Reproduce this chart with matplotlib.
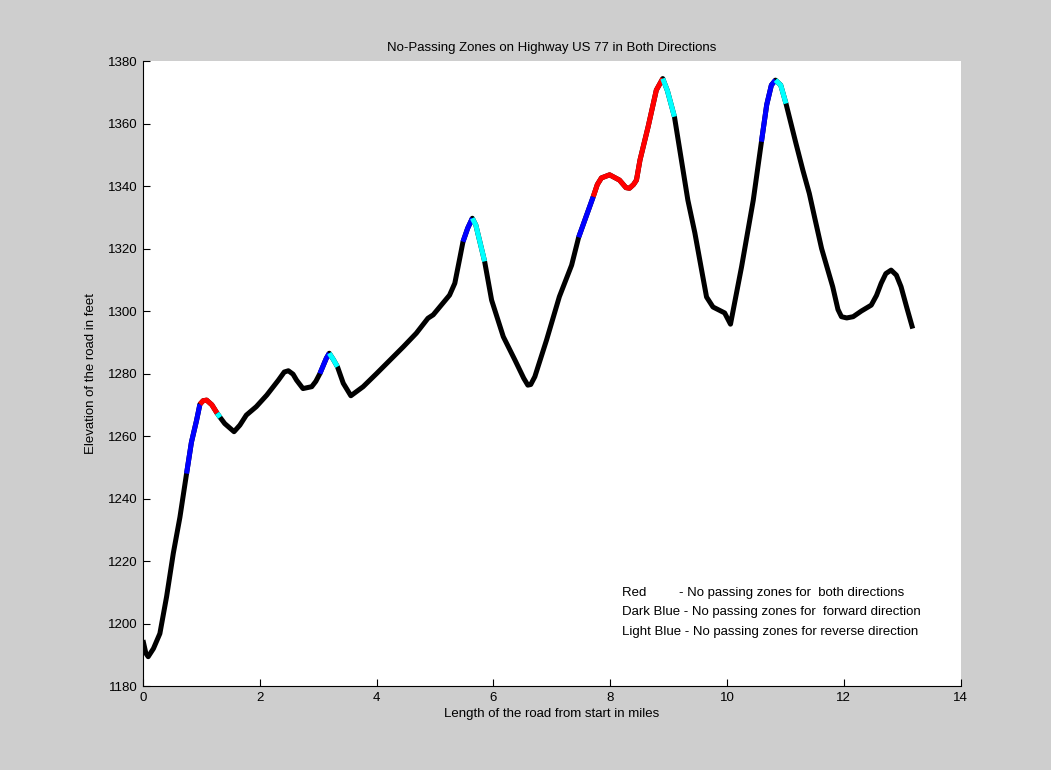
import matplotlib
matplotlib.use("Agg")
import matplotlib.pyplot as plt
import numpy as np

plt.rcParams['font.family'] = ['Liberation Sans Narrow', 'Liberation Sans', 'DejaVu Sans']

# --- 数据: 道路里程 (mile) 与海拔 (feet) ---
miles = np.array([
    0.00, 0.05, 0.09, 0.18, 0.29, 0.405, 0.52, 0.633, 0.747, 0.83, 0.918, 0.976,
    1.03, 1.09, 1.18, 1.27, 1.32, 1.40, 1.56, 1.66, 1.77, 1.94, 2.12, 2.32,
    2.42, 2.49, 2.57, 2.63, 2.74, 2.89, 2.96, 3.03, 3.14, 3.19, 3.26, 3.33,
    3.43, 3.56, 3.77, 4.00, 4.23, 4.46, 4.68, 4.88, 4.97, 5.25, 5.34, 5.43,
    5.48, 5.56, 5.64, 5.70, 5.85, 5.97, 6.17, 6.37, 6.52, 6.59, 6.64, 6.71,
    6.91, 7.13, 7.34, 7.46, 7.71, 7.78, 7.85, 7.99, 8.16, 8.27, 8.33, 8.40,
    8.45, 8.51, 8.65, 8.79, 8.90, 8.98, 9.10, 9.33, 9.45, 9.59, 9.65, 9.76,
    9.96, 10.06, 10.25, 10.45, 10.59, 10.68, 10.76, 10.83, 10.92, 11.01, 11.18, 11.30,
    11.41, 11.50, 11.62, 11.76, 11.81, 11.90, 11.96, 12.05, 12.16, 12.30, 12.47, 12.56,
    12.64, 12.72, 12.81, 12.90, 12.98, 13.08, 13.18,
])
elevation = np.array([
    1194.7, 1190.5, 1189.4, 1192.0, 1196.8, 1208.6, 1222.5, 1234.0, 1248.0, 1258.0, 1265.0, 1270.2,
    1271.3, 1271.5, 1270.0, 1267.3, 1266.0, 1264.0, 1261.4, 1263.5, 1266.7, 1269.4, 1273.1, 1277.9,
    1280.5, 1280.9, 1279.8, 1277.9, 1275.2, 1275.8, 1277.5, 1280.0, 1284.9, 1286.5, 1284.5, 1282.2,
    1276.9, 1272.9, 1275.8, 1280.0, 1284.3, 1288.6, 1292.9, 1297.7, 1298.8, 1305.1, 1308.9, 1317.4,
    1322.2, 1326.5, 1329.7, 1327.5, 1315.9, 1303.5, 1291.8, 1284.3, 1278.5, 1276.3, 1276.5, 1279.0,
    1290.7, 1304.6, 1314.7, 1323.6, 1336.6, 1340.5, 1342.6, 1343.6, 1341.9, 1339.5, 1339.3, 1340.5,
    1341.9, 1348.3, 1359.0, 1370.7, 1374.4, 1370.5, 1362.2, 1335.5, 1325.0, 1310.6, 1304.5, 1301.3,
    1299.4, 1295.8, 1314.2, 1335.5, 1354.2, 1366.0, 1372.3, 1373.9, 1372.3, 1366.4, 1353.7, 1345.0,
    1337.6, 1330.0, 1320.0, 1311.0, 1307.8, 1300.5, 1298.2, 1297.8, 1298.2, 1300.0, 1301.9, 1305.0,
    1308.9, 1312.0, 1313.1, 1311.5, 1307.8, 1301.0, 1294.4,
])

# 禁止超车区段 (起点, 终点)
zones_forward = [(0.747, 0.976), (3.03, 3.19), (5.48, 5.64), (7.46, 7.71), (10.59, 10.83)]
zones_both = [(0.976, 1.27), (7.71, 8.90)]
zones_reverse = [(1.27, 1.32), (3.19, 3.33), (5.64, 5.85), (8.90, 9.10), (10.83, 11.01)]

legend_lines = [
    "Red         - No passing zones for  both directions",
    "Dark Blue - No passing zones for  forward direction",
    "Light Blue - No passing zones for reverse direction",
]

fig = plt.figure(figsize=(10.51, 7.70), dpi=100, facecolor='#cecece')
ax = fig.add_axes([0.136, 0.109, 0.778, 0.8117])
ax.set_facecolor('white')

lw = 3.6
ax.plot(miles, elevation, color='black', linewidth=lw,
        solid_capstyle='butt', solid_joinstyle='round')
for zones, color in ((zones_forward, '#0000ff'), (zones_both, '#ff0000'), (zones_reverse, '#00ffff')):
    for start, end in zones:
        mask = (miles >= start - 1e-9) & (miles <= end + 1e-9)
        ax.plot(miles[mask], elevation[mask], color=color, linewidth=lw,
                solid_capstyle='butt', solid_joinstyle='round')

ax.set_xlim(0, 14)
ax.set_ylim(1180, 1380)
ax.set_xticks(np.arange(0, 15, 2))
ax.set_yticks(np.arange(1180, 1381, 20))
ax.tick_params(direction='in', length=5, width=0.8, labelsize=9.5, pad=4)
for side in ('top', 'right'):
    ax.spines[side].set_visible(False)
for side in ('left', 'bottom'):
    ax.spines[side].set_linewidth(0.8)

ax.set_title('No-Passing Zones on Highway US 77 in Both Directions', fontsize=9.5, pad=7)
ax.set_xlabel('Length of the road from start in miles', fontsize=9.5, labelpad=3)
ax.set_ylabel('Elevation of the road in feet', fontsize=9.5, labelpad=8)

for i, line in enumerate(legend_lines):
    ax.text(0.5856, 0.149 - i * 0.031, line, transform=ax.transAxes,
            fontsize=9.5, ha='left', va='center')

fig.savefig('out.png', dpi=100, facecolor=fig.get_facecolor())
